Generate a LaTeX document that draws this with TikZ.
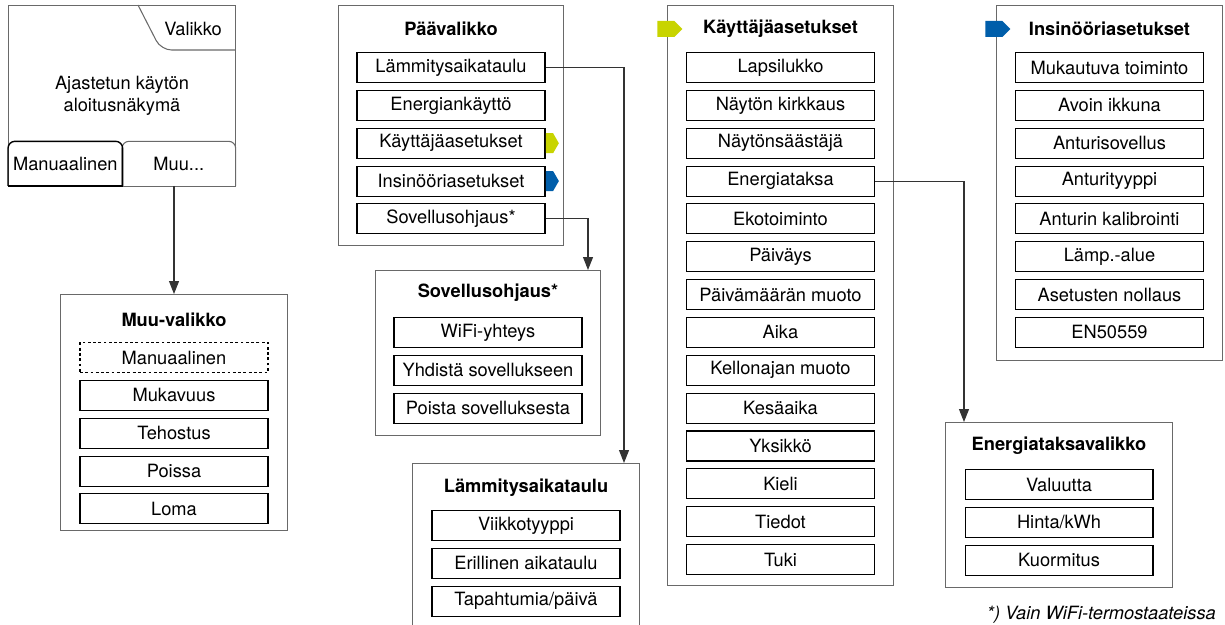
\documentclass[tikz,border=0pt]{standalone}
\usepackage{fontspec}
\setmainfont{TeX Gyre Heros}
\usetikzlibrary{shapes.symbols,arrows.meta,positioning,calc}
\definecolor{useryellow}{RGB}{200,212,0}
\definecolor{engblue}{RGB}{0,94,170}
\definecolor{panelgrey}{RGB}{105,105,105}

\begin{document}
\begin{tikzpicture}[
    x=0.02cm, y=-0.02cm,
    every node/.style={font=\fontsize{10.4}{12.5}\selectfont},
    panel/.style={draw=panelgrey,line width=0.6pt,anchor=north west,minimum width=4.52cm,inner sep=0},
    menutitle/.style={font=\fontsize{10.4}{12.5}\selectfont\bfseries},
    item/.style={draw,line width=0.6pt,minimum width=3.76cm,minimum height=0.6cm,inner sep=0},
    dasheditem/.style={item,dash pattern=on 1.6pt off 1.4pt},
    tag/.style={signal,signal to=east,inner sep=0,draw=none},
    link/.style={draw=black!80,line width=0.6pt,-{Triangle[length=0.26cm,width=0.2cm]}}
]
\useasboundingbox (0,0) rectangle (1225,625);

% Start screen
\node[panel,minimum width=4.54cm,minimum height=3.62cm] (start) at (8,5) {};
\draw[draw=panelgrey,line width=0.6pt,rounded corners=6pt] (138,5) -- (161,50) -- (235,50);
\node (valikko) at (193,29) {Valikko};
\node[align=center] (aloitus) at (122,96) {Ajastetun käytön\\aloitusnäkymä};
\node[minimum width=2.28cm,minimum height=0.88cm,anchor=south west,inner sep=0] (manual) at (8,186) {Manuaalinen};
\node[minimum width=2.26cm,minimum height=0.88cm,anchor=south west,inner sep=0] (muubtn) at (122,186) {Muu...};
\draw[draw=panelgrey,line width=0.6pt,rounded corners=4pt] (muubtn.south west) |- (muubtn.north east) -- (muubtn.south east);
\draw[line width=0.8pt,rounded corners=4pt] (manual.south west) |- (manual.north east) -- (manual.south east);
\draw[line width=0.8pt] (manual.south west) -- (manual.south east);

% Muu-valikko
\node[panel,minimum width=4.54cm,minimum height=4.72cm] (muuvalikko) at (60,294) {};
\node[menutitle] (muutitle) at ([yshift=-0.52cm]muuvalikko.north) {Muu-valikko};
\node[dasheditem,below=0.96cm of muuvalikko.north] (muu1) {Manuaalinen};
\node[item,below=0.136cm of muu1] (muu2) {Mukavuus};
\node[item,below=0.136cm of muu2] (muu3) {Tehostus};
\node[item,below=0.136cm of muu3] (muu4) {Poissa};
\node[item,below=0.136cm of muu4] (muu5) {Loma};

% Paavalikko
\node[panel,minimum width=4.5cm,minimum height=4.8cm] (paa) at (338,5) {};
\node[menutitle] (paatitle) at ([yshift=-0.48cm]paa.north) {Päävalikko};
\node[item,below=0.94cm of paa.north] (paa1) {Lämmitysaikataulu};
\node[item,below=0.136cm of paa1] (paa2) {Energiankäyttö};
\node[item,below=0.136cm of paa2] (paa3) {Käyttäjäasetukset};
\node[item,below=0.136cm of paa3] (paa4) {Insinööriasetukset};
\node[item,below=0.136cm of paa4] (paa5) {Sovellusohjaus*};
\node[tag,signal pointer angle=120,fill=useryellow,minimum width=0.26cm,minimum height=0.4cm,right=0pt of paa3] (paa3tag) {};
\node[tag,signal pointer angle=120,fill=engblue,minimum width=0.26cm,minimum height=0.4cm,right=0pt of paa4] (paa4tag) {};

% Sovellusohjaus
\node[panel,minimum width=4.5cm,minimum height=3.3cm] (sov) at (375,270) {};
\node[menutitle] (sovtitle) at ([yshift=-0.46cm]sov.north) {Sovellusohjaus*};
\node[item,below=0.94cm of sov.north] (sov1) {WiFi-yhteys};
\node[item,below=0.136cm of sov1] (sov2) {Yhdistä sovellukseen};
\node[item,below=0.136cm of sov2] (sov3) {Poista sovelluksesta};

% Lammitysaikataulu
\node[panel,minimum width=4.54cm,minimum height=3.6cm] (lam) at (412,463) {};
\node[menutitle] (lamtitle) at ([yshift=-0.5cm]lam.north) {Lämmitysaikataulu};
\node[item,below=0.94cm of lam.north] (lam1) {Viikkotyyppi};
\node[item,below=0.136cm of lam1] (lam2) {Erillinen aikataulu};
\node[item,below=0.136cm of lam2] (lam3) {Tapahtumia/päivä};

% Kayttajaasetukset
\node[panel,minimum width=4.52cm,minimum height=11.6cm] (kay) at (667,5) {};
\node[menutitle] (kaytitle) at ([yshift=-0.48cm]kay.north) {Käyttäjäasetukset};
\node[tag,fill=useryellow,minimum width=0.5cm,minimum height=0.32cm,anchor=west] (kaytag) at ([xshift=-0.2cm]kay.west |- kaytitle) {};
\node[item,below=0.94cm of kay.north] (kay1) {Lapsilukko};
\node[item,below=0.136cm of kay1] (kay2) {Näytön kirkkaus};
\node[item,below=0.136cm of kay2] (kay3) {Näytönsäästäjä};
\node[item,below=0.136cm of kay3] (kay4) {Energiataksa};
\node[item,below=0.136cm of kay4] (kay5) {Ekotoiminto};
\node[item,below=0.136cm of kay5] (kay6) {Päiväys};
\node[item,below=0.136cm of kay6] (kay7) {Päivämäärän muoto};
\node[item,below=0.136cm of kay7] (kay8) {Aika};
\node[item,below=0.136cm of kay8] (kay9) {Kellonajan muoto};
\node[item,below=0.136cm of kay9] (kay10) {Kesäaika};
\node[item,below=0.136cm of kay10] (kay11) {Yksikkö};
\node[item,below=0.136cm of kay11] (kay12) {Kieli};
\node[item,below=0.136cm of kay12] (kay13) {Tiedot};
\node[item,below=0.136cm of kay13] (kay14) {Tuki};

% Insinooriasetukset
\node[panel,minimum width=4.52cm,minimum height=7.1cm] (ins) at (996,5) {};
\node[menutitle] (institle) at ([yshift=-0.48cm]ins.north) {Insinööriasetukset};
\node[tag,fill=engblue,minimum width=0.5cm,minimum height=0.32cm,anchor=west] (instag) at ([xshift=-0.22cm]ins.west |- institle) {};
\node[item,below=0.94cm of ins.north] (ins1) {Mukautuva toiminto};
\node[item,below=0.136cm of ins1] (ins2) {Avoin ikkuna};
\node[item,below=0.136cm of ins2] (ins3) {Anturisovellus};
\node[item,below=0.136cm of ins3] (ins4) {Anturityyppi};
\node[item,below=0.136cm of ins4] (ins5) {Anturin kalibrointi};
\node[item,below=0.136cm of ins5] (ins6) {Lämp.-alue};
\node[item,below=0.136cm of ins6] (ins7) {Asetusten nollaus};
\node[item,below=0.136cm of ins7] (ins8) {EN50559};

% Energiataksavalikko
\node[panel,minimum width=4.54cm,minimum height=3.3cm] (ene) at (945,422) {};
\node[menutitle] (enetitle) at ([yshift=-0.48cm]ene.north) {Energiataksavalikko};
\node[item,below=0.94cm of ene.north] (ene1) {Valuutta};
\node[item,below=0.136cm of ene1] (ene2) {Hinta/kWh};
\node[item,below=0.136cm of ene2] (ene3) {Kuormitus};

% Footnote
\node[anchor=base east,font=\fontsize{10.4}{12.5}\selectfont\itshape] (note) at (1222,619) {*) Vain WiFi-termostaateissa};

% Connections
\draw[link] (muuvalikko.north |- muubtn.south) -- (muuvalikko.north);
\draw[link] (paa1.east) -| ([xshift=-0.32cm]lam.north east);
\draw[link] (paa5.east) -| ([xshift=-0.26cm]sov.north east);
\draw[link] (kay4.east) -| ([xshift=0.38cm]ene.north west);

\end{tikzpicture}
\end{document}
